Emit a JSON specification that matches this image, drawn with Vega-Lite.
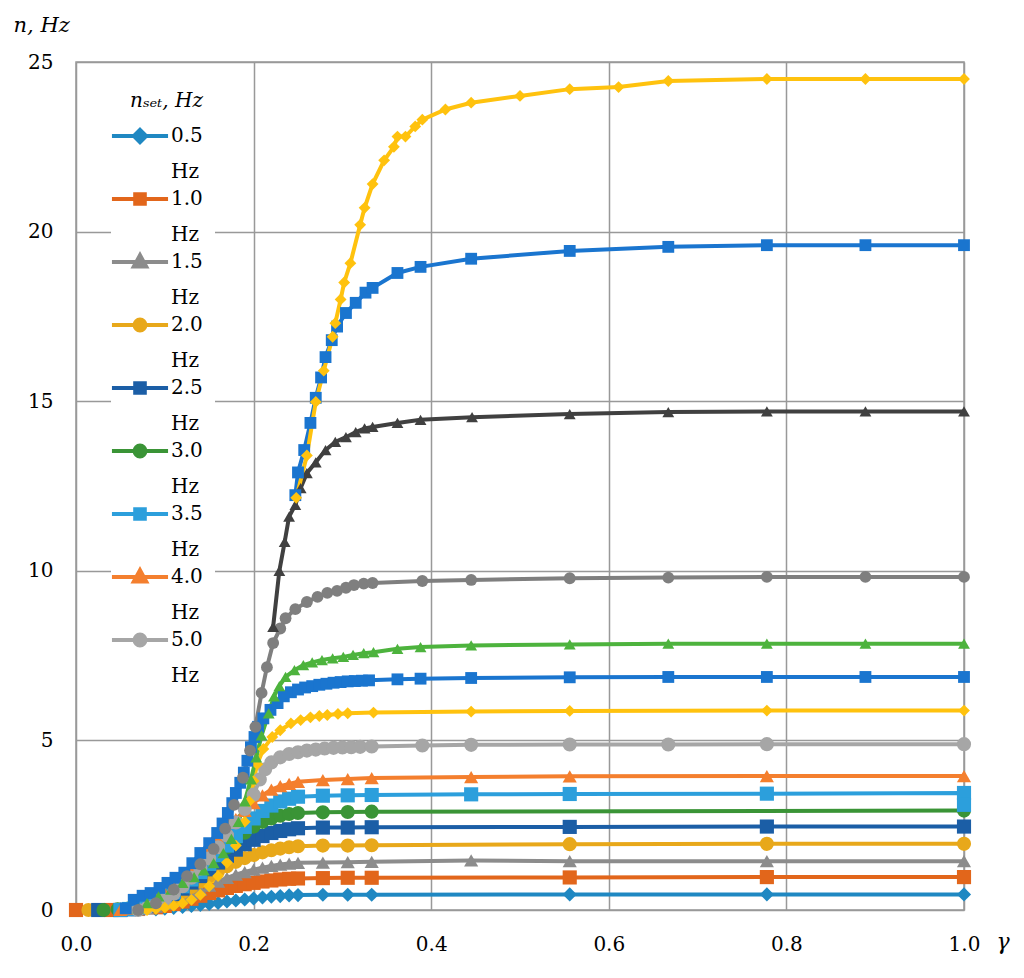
{
  "$schema": "https://vega.github.io/schema/vega-lite/v6.json",
  "width": 888,
  "height": 848,
  "autosize": {"type": "none"},
  "padding": {"left": 76, "top": 62, "right": 60, "bottom": 68},
  "background": "white",
  "data": {
    "values": [
      {"s":"0.5","x":0.05,"y":0},{"s":"0.5","x":0.07,"y":0},{"s":"0.5","x":0.09,"y":0.02},{"s":"0.5","x":0.10,"y":0.04},{"s":"0.5","x":0.11,"y":0.06},{"s":"0.5","x":0.12,"y":0.09},{"s":"0.5","x":0.13,"y":0.12},{"s":"0.5","x":0.14,"y":0.15},{"s":"0.5","x":0.15,"y":0.18},{"s":"0.5","x":0.16,"y":0.21},{"s":"0.5","x":0.17,"y":0.25},{"s":"0.5","x":0.18,"y":0.28},{"s":"0.5","x":0.19,"y":0.31},{"s":"0.5","x":0.20,"y":0.34},{"s":"0.5","x":0.21,"y":0.37},{"s":"0.5","x":0.22,"y":0.39},{"s":"0.5","x":0.23,"y":0.41},{"s":"0.5","x":0.24,"y":0.43},{"s":"0.5","x":0.25,"y":0.44},{"s":"0.5","x":0.278,"y":0.45},{"s":"0.5","x":0.306,"y":0.45},{"s":"0.5","x":0.333,"y":0.45},{"s":"0.5","x":0.556,"y":0.46},{"s":"0.5","x":0.778,"y":0.46},{"s":"0.5","x":1.0,"y":0.46},
      {"s":"1.0","x":0,"y":0},{"s":"1.0","x":0.04,"y":0},{"s":"1.0","x":0.07,"y":0.03},{"s":"1.0","x":0.09,"y":0.08},{"s":"1.0","x":0.10,"y":0.12},{"s":"1.0","x":0.11,"y":0.18},{"s":"1.0","x":0.12,"y":0.25},{"s":"1.0","x":0.13,"y":0.33},{"s":"1.0","x":0.14,"y":0.42},{"s":"1.0","x":0.15,"y":0.5},{"s":"1.0","x":0.16,"y":0.58},{"s":"1.0","x":0.17,"y":0.65},{"s":"1.0","x":0.18,"y":0.71},{"s":"1.0","x":0.19,"y":0.76},{"s":"1.0","x":0.20,"y":0.8},{"s":"1.0","x":0.21,"y":0.84},{"s":"1.0","x":0.22,"y":0.87},{"s":"1.0","x":0.23,"y":0.9},{"s":"1.0","x":0.24,"y":0.92},{"s":"1.0","x":0.25,"y":0.93},{"s":"1.0","x":0.278,"y":0.94},{"s":"1.0","x":0.306,"y":0.95},{"s":"1.0","x":0.333,"y":0.95},{"s":"1.0","x":0.556,"y":0.96},{"s":"1.0","x":0.778,"y":0.97},{"s":"1.0","x":1.0,"y":0.97},
      {"s":"1.5","x":0.05,"y":0},{"s":"1.5","x":0.07,"y":0.02},{"s":"1.5","x":0.08,"y":0.05},{"s":"1.5","x":0.09,"y":0.1},{"s":"1.5","x":0.10,"y":0.18},{"s":"1.5","x":0.11,"y":0.27},{"s":"1.5","x":0.12,"y":0.37},{"s":"1.5","x":0.13,"y":0.48},{"s":"1.5","x":0.14,"y":0.6},{"s":"1.5","x":0.15,"y":0.72},{"s":"1.5","x":0.16,"y":0.84},{"s":"1.5","x":0.17,"y":0.95},{"s":"1.5","x":0.18,"y":1.04},{"s":"1.5","x":0.19,"y":1.12},{"s":"1.5","x":0.20,"y":1.19},{"s":"1.5","x":0.21,"y":1.25},{"s":"1.5","x":0.22,"y":1.3},{"s":"1.5","x":0.23,"y":1.34},{"s":"1.5","x":0.24,"y":1.37},{"s":"1.5","x":0.25,"y":1.39},{"s":"1.5","x":0.278,"y":1.4},{"s":"1.5","x":0.306,"y":1.41},{"s":"1.5","x":0.333,"y":1.42},{"s":"1.5","x":0.445,"y":1.46},{"s":"1.5","x":0.556,"y":1.44},{"s":"1.5","x":0.778,"y":1.44},{"s":"1.5","x":1.0,"y":1.44},
      {"s":"2.0","x":0.014,"y":0},{"s":"2.0","x":0.05,"y":0},{"s":"2.0","x":0.07,"y":0.04},{"s":"2.0","x":0.08,"y":0.08},{"s":"2.0","x":0.09,"y":0.15},{"s":"2.0","x":0.10,"y":0.25},{"s":"2.0","x":0.11,"y":0.38},{"s":"2.0","x":0.12,"y":0.52},{"s":"2.0","x":0.13,"y":0.68},{"s":"2.0","x":0.14,"y":0.84},{"s":"2.0","x":0.15,"y":1.0},{"s":"2.0","x":0.16,"y":1.15},{"s":"2.0","x":0.17,"y":1.29},{"s":"2.0","x":0.18,"y":1.42},{"s":"2.0","x":0.19,"y":1.53},{"s":"2.0","x":0.20,"y":1.62},{"s":"2.0","x":0.21,"y":1.7},{"s":"2.0","x":0.22,"y":1.76},{"s":"2.0","x":0.23,"y":1.81},{"s":"2.0","x":0.24,"y":1.85},{"s":"2.0","x":0.25,"y":1.88},{"s":"2.0","x":0.278,"y":1.9},{"s":"2.0","x":0.306,"y":1.9},{"s":"2.0","x":0.333,"y":1.91},{"s":"2.0","x":0.556,"y":1.94},{"s":"2.0","x":0.778,"y":1.95},{"s":"2.0","x":1.0,"y":1.95},
      {"s":"2.5","x":0.025,"y":0},{"s":"2.5","x":0.05,"y":0},{"s":"2.5","x":0.06,"y":0.02},{"s":"2.5","x":0.07,"y":0.06},{"s":"2.5","x":0.08,"y":0.12},{"s":"2.5","x":0.09,"y":0.21},{"s":"2.5","x":0.10,"y":0.33},{"s":"2.5","x":0.11,"y":0.47},{"s":"2.5","x":0.12,"y":0.63},{"s":"2.5","x":0.13,"y":0.81},{"s":"2.5","x":0.14,"y":1.0},{"s":"2.5","x":0.15,"y":1.2},{"s":"2.5","x":0.16,"y":1.4},{"s":"2.5","x":0.17,"y":1.6},{"s":"2.5","x":0.18,"y":1.78},{"s":"2.5","x":0.19,"y":1.94},{"s":"2.5","x":0.20,"y":2.07},{"s":"2.5","x":0.21,"y":2.18},{"s":"2.5","x":0.22,"y":2.27},{"s":"2.5","x":0.23,"y":2.33},{"s":"2.5","x":0.24,"y":2.38},{"s":"2.5","x":0.25,"y":2.41},{"s":"2.5","x":0.278,"y":2.43},{"s":"2.5","x":0.306,"y":2.43},{"s":"2.5","x":0.333,"y":2.44},{"s":"2.5","x":0.556,"y":2.45},{"s":"2.5","x":0.778,"y":2.46},{"s":"2.5","x":1.0,"y":2.46},
      {"s":"3.0","x":0.031,"y":0},{"s":"3.0","x":0.047,"y":0.02},{"s":"3.0","x":0.06,"y":0.05},{"s":"3.0","x":0.07,"y":0.1},{"s":"3.0","x":0.08,"y":0.18},{"s":"3.0","x":0.09,"y":0.28},{"s":"3.0","x":0.10,"y":0.4},{"s":"3.0","x":0.11,"y":0.55},{"s":"3.0","x":0.12,"y":0.72},{"s":"3.0","x":0.13,"y":0.92},{"s":"3.0","x":0.14,"y":1.13},{"s":"3.0","x":0.15,"y":1.36},{"s":"3.0","x":0.16,"y":1.6},{"s":"3.0","x":0.17,"y":1.84},{"s":"3.0","x":0.18,"y":2.07},{"s":"3.0","x":0.19,"y":2.28},{"s":"3.0","x":0.20,"y":2.46},{"s":"3.0","x":0.21,"y":2.6},{"s":"3.0","x":0.22,"y":2.7},{"s":"3.0","x":0.23,"y":2.78},{"s":"3.0","x":0.24,"y":2.83},{"s":"3.0","x":0.25,"y":2.86},{"s":"3.0","x":0.278,"y":2.88},{"s":"3.0","x":0.306,"y":2.89},{"s":"3.0","x":0.333,"y":2.9},{"s":"3.0","x":1.0,"y":2.93},
      {"s":"3.5","x":0.05,"y":0},{"s":"3.5","x":0.06,"y":0.03},{"s":"3.5","x":0.07,"y":0.08},{"s":"3.5","x":0.08,"y":0.15},{"s":"3.5","x":0.09,"y":0.25},{"s":"3.5","x":0.10,"y":0.37},{"s":"3.5","x":0.11,"y":0.52},{"s":"3.5","x":0.12,"y":0.7},{"s":"3.5","x":0.13,"y":0.9},{"s":"3.5","x":0.14,"y":1.12},{"s":"3.5","x":0.15,"y":1.36},{"s":"3.5","x":0.16,"y":1.62},{"s":"3.5","x":0.17,"y":1.9},{"s":"3.5","x":0.18,"y":2.18},{"s":"3.5","x":0.19,"y":2.45},{"s":"3.5","x":0.20,"y":2.7},{"s":"3.5","x":0.21,"y":2.92},{"s":"3.5","x":0.22,"y":3.08},{"s":"3.5","x":0.23,"y":3.2},{"s":"3.5","x":0.24,"y":3.28},{"s":"3.5","x":0.25,"y":3.34},{"s":"3.5","x":0.278,"y":3.37},{"s":"3.5","x":0.306,"y":3.38},{"s":"3.5","x":0.333,"y":3.39},{"s":"3.5","x":0.445,"y":3.41},{"s":"3.5","x":0.556,"y":3.42},{"s":"3.5","x":0.778,"y":3.43},{"s":"3.5","x":1.0,"y":3.45},{"s":"3.5","x":1.0,"y":3.1},
      {"s":"4.0","x":0.05,"y":0},{"s":"4.0","x":0.06,"y":0.04},{"s":"4.0","x":0.07,"y":0.1},{"s":"4.0","x":0.08,"y":0.2},{"s":"4.0","x":0.09,"y":0.32},{"s":"4.0","x":0.10,"y":0.48},{"s":"4.0","x":0.11,"y":0.68},{"s":"4.0","x":0.12,"y":0.92},{"s":"4.0","x":0.13,"y":1.2},{"s":"4.0","x":0.14,"y":1.5},{"s":"4.0","x":0.15,"y":1.8},{"s":"4.0","x":0.16,"y":2.1},{"s":"4.0","x":0.17,"y":2.4},{"s":"4.0","x":0.18,"y":2.68},{"s":"4.0","x":0.19,"y":2.92},{"s":"4.0","x":0.20,"y":3.15},{"s":"4.0","x":0.21,"y":3.38},{"s":"4.0","x":0.22,"y":3.55},{"s":"4.0","x":0.23,"y":3.65},{"s":"4.0","x":0.24,"y":3.72},{"s":"4.0","x":0.25,"y":3.78},{"s":"4.0","x":0.278,"y":3.83},{"s":"4.0","x":0.306,"y":3.86},{"s":"4.0","x":0.333,"y":3.89},{"s":"4.0","x":0.445,"y":3.92},{"s":"4.0","x":0.556,"y":3.94},{"s":"4.0","x":0.778,"y":3.95},{"s":"4.0","x":1.0,"y":3.95},
      {"s":"5.0","x":0.07,"y":0},{"s":"5.0","x":0.08,"y":0.06},{"s":"5.0","x":0.09,"y":0.15},{"s":"5.0","x":0.10,"y":0.3},{"s":"5.0","x":0.11,"y":0.48},{"s":"5.0","x":0.12,"y":0.7},{"s":"5.0","x":0.13,"y":0.95},{"s":"5.0","x":0.14,"y":1.22},{"s":"5.0","x":0.15,"y":1.52},{"s":"5.0","x":0.16,"y":1.85},{"s":"5.0","x":0.17,"y":2.2},{"s":"5.0","x":0.18,"y":2.58},{"s":"5.0","x":0.19,"y":2.98},{"s":"5.0","x":0.20,"y":3.4},{"s":"5.0","x":0.207,"y":3.85},{"s":"5.0","x":0.213,"y":4.15},{"s":"5.0","x":0.22,"y":4.35},{"s":"5.0","x":0.23,"y":4.5},{"s":"5.0","x":0.24,"y":4.6},{"s":"5.0","x":0.25,"y":4.65},{"s":"5.0","x":0.26,"y":4.7},{"s":"5.0","x":0.27,"y":4.73},{"s":"5.0","x":0.28,"y":4.76},{"s":"5.0","x":0.29,"y":4.78},{"s":"5.0","x":0.30,"y":4.79},{"s":"5.0","x":0.31,"y":4.8},{"s":"5.0","x":0.32,"y":4.81},{"s":"5.0","x":0.333,"y":4.82},{"s":"5.0","x":0.39,"y":4.85},{"s":"5.0","x":0.445,"y":4.87},{"s":"5.0","x":0.556,"y":4.88},{"s":"5.0","x":0.667,"y":4.88},{"s":"5.0","x":0.778,"y":4.89},{"s":"5.0","x":1.0,"y":4.89},
      {"s":"6","x":0.08,"y":0},{"s":"6","x":0.09,"y":0.03},{"s":"6","x":0.10,"y":0.07},{"s":"6","x":0.11,"y":0.12},{"s":"6","x":0.12,"y":0.2},{"s":"6","x":0.13,"y":0.3},{"s":"6","x":0.14,"y":0.45},{"s":"6","x":0.15,"y":0.7},{"s":"6","x":0.16,"y":1.0},{"s":"6","x":0.17,"y":1.4},{"s":"6","x":0.18,"y":1.9},{"s":"6","x":0.19,"y":2.6},{"s":"6","x":0.195,"y":3.2},{"s":"6","x":0.2,"y":3.8},{"s":"6","x":0.204,"y":4.3},{"s":"6","x":0.211,"y":4.75},{"s":"6","x":0.221,"y":5.1},{"s":"6","x":0.23,"y":5.3},{"s":"6","x":0.242,"y":5.5},{"s":"6","x":0.253,"y":5.6},{"s":"6","x":0.264,"y":5.68},{"s":"6","x":0.274,"y":5.72},{"s":"6","x":0.283,"y":5.75},{"s":"6","x":0.295,"y":5.78},{"s":"6","x":0.306,"y":5.8},{"s":"6","x":0.335,"y":5.82},{"s":"6","x":0.445,"y":5.85},{"s":"6","x":0.556,"y":5.87},{"s":"6","x":0.778,"y":5.88},{"s":"6","x":1.0,"y":5.88},
      {"s":"7","x":0.056,"y":0.05},{"s":"7","x":0.065,"y":0.3},{"s":"7","x":0.075,"y":0.42},{"s":"7","x":0.084,"y":0.5},{"s":"7","x":0.094,"y":0.65},{"s":"7","x":0.103,"y":0.8},{"s":"7","x":0.112,"y":0.95},{"s":"7","x":0.122,"y":1.1},{"s":"7","x":0.131,"y":1.38},{"s":"7","x":0.14,"y":1.68},{"s":"7","x":0.15,"y":1.97},{"s":"7","x":0.159,"y":2.27},{"s":"7","x":0.165,"y":2.55},{"s":"7","x":0.171,"y":2.86},{"s":"7","x":0.176,"y":3.15},{"s":"7","x":0.18,"y":3.45},{"s":"7","x":0.185,"y":3.75},{"s":"7","x":0.189,"y":4.05},{"s":"7","x":0.193,"y":4.4},{"s":"7","x":0.197,"y":4.8},{"s":"7","x":0.201,"y":5.1},{"s":"7","x":0.205,"y":5.4},{"s":"7","x":0.211,"y":5.65},{"s":"7","x":0.219,"y":5.9},{"s":"7","x":0.227,"y":6.1},{"s":"7","x":0.234,"y":6.3},{"s":"7","x":0.242,"y":6.42},{"s":"7","x":0.25,"y":6.5},{"s":"7","x":0.258,"y":6.56},{"s":"7","x":0.266,"y":6.6},{"s":"7","x":0.274,"y":6.64},{"s":"7","x":0.282,"y":6.67},{"s":"7","x":0.29,"y":6.7},{"s":"7","x":0.298,"y":6.72},{"s":"7","x":0.306,"y":6.74},{"s":"7","x":0.314,"y":6.75},{"s":"7","x":0.322,"y":6.76},{"s":"7","x":0.33,"y":6.77},{"s":"7","x":0.362,"y":6.8},{"s":"7","x":0.388,"y":6.82},{"s":"7","x":0.445,"y":6.84},{"s":"7","x":0.556,"y":6.86},{"s":"7","x":0.667,"y":6.87},{"s":"7","x":0.778,"y":6.87},{"s":"7","x":0.889,"y":6.87},{"s":"7","x":1.0,"y":6.87},
      {"s":"8","x":0.07,"y":0.05},{"s":"8","x":0.08,"y":0.2},{"s":"8","x":0.093,"y":0.4},{"s":"8","x":0.107,"y":0.6},{"s":"8","x":0.12,"y":0.8},{"s":"8","x":0.133,"y":0.97},{"s":"8","x":0.144,"y":1.17},{"s":"8","x":0.155,"y":1.38},{"s":"8","x":0.166,"y":1.68},{"s":"8","x":0.175,"y":2.1},{"s":"8","x":0.183,"y":2.6},{"s":"8","x":0.19,"y":3.2},{"s":"8","x":0.197,"y":3.85},{"s":"8","x":0.203,"y":4.5},{"s":"8","x":0.209,"y":5.15},{"s":"8","x":0.217,"y":5.8},{"s":"8","x":0.223,"y":6.3},{"s":"8","x":0.229,"y":6.6},{"s":"8","x":0.236,"y":6.87},{"s":"8","x":0.246,"y":7.07},{"s":"8","x":0.256,"y":7.22},{"s":"8","x":0.266,"y":7.3},{"s":"8","x":0.277,"y":7.37},{"s":"8","x":0.289,"y":7.42},{"s":"8","x":0.301,"y":7.46},{"s":"8","x":0.312,"y":7.52},{"s":"8","x":0.324,"y":7.57},{"s":"8","x":0.335,"y":7.6},{"s":"8","x":0.362,"y":7.7},{"s":"8","x":0.388,"y":7.75},{"s":"8","x":0.445,"y":7.8},{"s":"8","x":0.556,"y":7.83},{"s":"8","x":0.667,"y":7.85},{"s":"8","x":0.778,"y":7.85},{"s":"8","x":0.889,"y":7.85},{"s":"8","x":1.0,"y":7.85},
      {"s":"10","x":0.07,"y":0},{"s":"10","x":0.09,"y":0.2},{"s":"10","x":0.11,"y":0.6},{"s":"10","x":0.125,"y":1.0},{"s":"10","x":0.14,"y":1.35},{"s":"10","x":0.155,"y":1.8},{"s":"10","x":0.168,"y":2.4},{"s":"10","x":0.178,"y":3.1},{"s":"10","x":0.188,"y":3.9},{"s":"10","x":0.196,"y":4.7},{"s":"10","x":0.202,"y":5.4},{"s":"10","x":0.209,"y":6.4},{"s":"10","x":0.215,"y":7.16},{"s":"10","x":0.222,"y":7.87},{"s":"10","x":0.23,"y":8.3},{"s":"10","x":0.236,"y":8.6},{"s":"10","x":0.247,"y":8.87},{"s":"10","x":0.26,"y":9.08},{"s":"10","x":0.272,"y":9.23},{"s":"10","x":0.283,"y":9.35},{"s":"10","x":0.294,"y":9.41},{"s":"10","x":0.304,"y":9.5},{"s":"10","x":0.313,"y":9.58},{"s":"10","x":0.324,"y":9.62},{"s":"10","x":0.334,"y":9.64},{"s":"10","x":0.39,"y":9.7},{"s":"10","x":0.445,"y":9.73},{"s":"10","x":0.556,"y":9.78},{"s":"10","x":0.667,"y":9.8},{"s":"10","x":0.778,"y":9.82},{"s":"10","x":0.889,"y":9.82},{"s":"10","x":1.0,"y":9.82},
      {"s":"15","x":0.222,"y":8.35},{"s":"15","x":0.229,"y":10.0},{"s":"15","x":0.235,"y":10.85},{"s":"15","x":0.24,"y":11.6},{"s":"15","x":0.247,"y":11.94},{"s":"15","x":0.253,"y":12.44},{"s":"15","x":0.26,"y":12.88},{"s":"15","x":0.27,"y":13.2},{"s":"15","x":0.281,"y":13.56},{"s":"15","x":0.292,"y":13.8},{"s":"15","x":0.304,"y":13.94},{"s":"15","x":0.315,"y":14.09},{"s":"15","x":0.325,"y":14.2},{"s":"15","x":0.334,"y":14.24},{"s":"15","x":0.362,"y":14.36},{"s":"15","x":0.388,"y":14.45},{"s":"15","x":0.446,"y":14.53},{"s":"15","x":0.556,"y":14.62},{"s":"15","x":0.667,"y":14.68},{"s":"15","x":0.778,"y":14.7},{"s":"15","x":0.889,"y":14.7},{"s":"15","x":1.0,"y":14.7},
      {"s":"20","x":0.247,"y":12.23},{"s":"20","x":0.25,"y":12.9},{"s":"20","x":0.257,"y":13.56},{"s":"20","x":0.264,"y":14.36},{"s":"20","x":0.27,"y":15.1},{"s":"20","x":0.276,"y":15.7},{"s":"20","x":0.281,"y":16.3},{"s":"20","x":0.288,"y":16.8},{"s":"20","x":0.294,"y":17.2},{"s":"20","x":0.304,"y":17.6},{"s":"20","x":0.315,"y":17.9},{"s":"20","x":0.326,"y":18.2},{"s":"20","x":0.334,"y":18.34},{"s":"20","x":0.362,"y":18.78},{"s":"20","x":0.388,"y":18.96},{"s":"20","x":0.445,"y":19.2},{"s":"20","x":0.556,"y":19.43},{"s":"20","x":0.667,"y":19.55},{"s":"20","x":0.778,"y":19.6},{"s":"20","x":0.889,"y":19.6},{"s":"20","x":1.0,"y":19.6},
      {"s":"25","x":0.248,"y":12.15},{"s":"25","x":0.26,"y":13.4},{"s":"25","x":0.27,"y":14.98},{"s":"25","x":0.279,"y":15.9},{"s":"25","x":0.289,"y":16.9},{"s":"25","x":0.292,"y":17.3},{"s":"25","x":0.298,"y":18.0},{"s":"25","x":0.302,"y":18.5},{"s":"25","x":0.309,"y":19.07},{"s":"25","x":0.32,"y":20.2},{"s":"25","x":0.325,"y":20.7},{"s":"25","x":0.334,"y":21.4},{"s":"25","x":0.347,"y":22.1},{"s":"25","x":0.358,"y":22.5},{"s":"25","x":0.362,"y":22.8},{"s":"25","x":0.371,"y":22.8},{"s":"25","x":0.382,"y":23.1},{"s":"25","x":0.39,"y":23.3},{"s":"25","x":0.416,"y":23.6},{"s":"25","x":0.445,"y":23.8},{"s":"25","x":0.5,"y":24.0},{"s":"25","x":0.556,"y":24.2},{"s":"25","x":0.611,"y":24.26},{"s":"25","x":0.667,"y":24.44},{"s":"25","x":0.778,"y":24.5},{"s":"25","x":0.889,"y":24.5},{"s":"25","x":1.0,"y":24.5}
    ]
  },
  "encoding": {
    "x": {
      "field": "x",
      "type": "quantitative",
      "scale": {"domain": [0, 1], "nice": false, "zero": false},
      "axis": {
        "values": [0, 0.2, 0.4, 0.6, 0.8, 1.0],
        "format": ".1f",
        "labelFlush": false,
        "title": "γ",
        "titleFontStyle": "italic",
        "titleFontWeight": "normal",
        "titleFontSize": 22,
        "titleX": 920,
        "titleY": 38,
        "titleAlign": "left",
        "titleBaseline": "alphabetic",
        "labelPadding": 24,
        "labelBaseline": "top"
      }
    },
    "y": {
      "field": "y",
      "type": "quantitative",
      "scale": {"domain": [0, 25], "nice": false},
      "axis": {
        "values": [0, 5, 10, 15, 20, 25],
        "format": "d",
        "labelFlush": false,
        "title": "n, Hz",
        "titleFontStyle": "italic",
        "titleFontWeight": "normal",
        "titleFontSize": 21,
        "titleAngle": 0,
        "titleAlign": "left",
        "titleBaseline": "alphabetic",
        "titleX": -63,
        "titleY": -31,
        "labelPadding": 23
      }
    },
    "color": {
      "field": "s",
      "type": "nominal",
      "scale": {
        "domain": ["0.5", "1.0", "1.5", "2.0", "2.5", "3.0", "3.5", "4.0", "5.0", "6", "7", "8", "10", "15", "20", "25"],
        "range": ["#1f88c2", "#e2661b", "#8c8c8c", "#e8a81a", "#1b5ea6", "#3a9436", "#2c9fdc", "#f47f2e", "#a6a6a6", "#ffc20e", "#1a75cf", "#4db33d", "#7f7f7f", "#404040", "#1a75cf", "#ffc20e"]
      },
      "legend": {
        "title": "nₛₑₜ, Hz",
        "values": ["0.5", "1.0", "1.5", "2.0", "2.5", "3.0", "3.5", "4.0", "5.0"],
        "orient": "none",
        "legendX": 35,
        "legendY": 17,
        "padding": 12,
        "fillColor": "white",
        "titleFont": "DejaVu Serif",
        "titleFontSize": 20,
        "titleFontStyle": "italic",
        "titleFontWeight": "normal",
        "titleColor": "black",
        "titleAnchor": "end",
        "titlePadding": 8,
        "labelFont": "DejaVu Serif",
        "labelFontSize": 20,
        "labelColor": "black",
        "labelOffset": 14,
        "labelBaseline": "top",
        "labelExpr": "[datum.label, 'Hz']",
        "rowPadding": 0,
        "symbolSize": 900,
        "symbolStrokeWidth": 4,
        "encode": {
          "symbols": {
            "update": {
              "shape": {"signal": "indexof(['1.0','2.5','3.5'], datum.value) >= 0 ? 'M-1.87,0H1.87M-0.32,-0.32H0.32V0.32H-0.32Z' : indexof(['2.0','3.0','5.0'], datum.value) >= 0 ? 'M-1.87,0H1.87M0.36,0A0.36,0.36,0,1,1,-0.36,0A0.36,0.36,0,1,1,0.36,0Z' : indexof(['1.5','4.0'], datum.value) >= 0 ? 'M-1.87,0H1.87M0,-0.45L0.41,0.3H-0.41Z' : 'M-1.87,0H1.87M0,-0.41L0.41,0L0,0.41L-0.41,0Z'"},
              "size": {"value": 900},
              "fill": {"scale": "color", "field": "value"},
              "stroke": {"scale": "color", "field": "value"},
              "strokeWidth": {"value": 4},
              "opacity": {"value": 1}
            }
          },
          "labels": {
            "update": {
              "lineHeight": {"value": 36},
              "dy": {"value": -10}
            }
          }
        }
      }
    }
  },
  "layer": [
    {
      "mark": {"type": "line", "strokeWidth": 4}
    },
    {
      "mark": {"type": "point", "filled": true, "opacity": 1},
      "encoding": {
        "shape": {
          "condition": [
            {"test": "indexof(['0.5','6','25'], datum.s) >= 0", "value": "diamond"},
            {"test": "indexof(['1.0','2.5','3.5','7','20'], datum.s) >= 0", "value": "square"},
            {"test": "indexof(['1.5','4.0','8','15'], datum.s) >= 0", "value": "triangle-up"}
          ],
          "value": "circle"
        },
        "size": {
          "condition": {"test": "indexof(['6','7','8','10','15','20','25'], datum.s) >= 0", "value": 140},
          "value": 200
        }
      }
    }
  ],
  "config": {
    "font": "DejaVu Serif",
    "view": {"stroke": "#999999", "strokeWidth": 1.5},
    "axis": {
      "domain": false,
      "ticks": false,
      "tickSize": 0,
      "grid": true,
      "gridColor": "#999999",
      "gridWidth": 1.5,
      "labelFont": "DejaVu Serif",
      "labelFontSize": 20,
      "labelColor": "black",
      "titleFont": "DejaVu Serif",
      "titleColor": "black"
    }
  }
}
